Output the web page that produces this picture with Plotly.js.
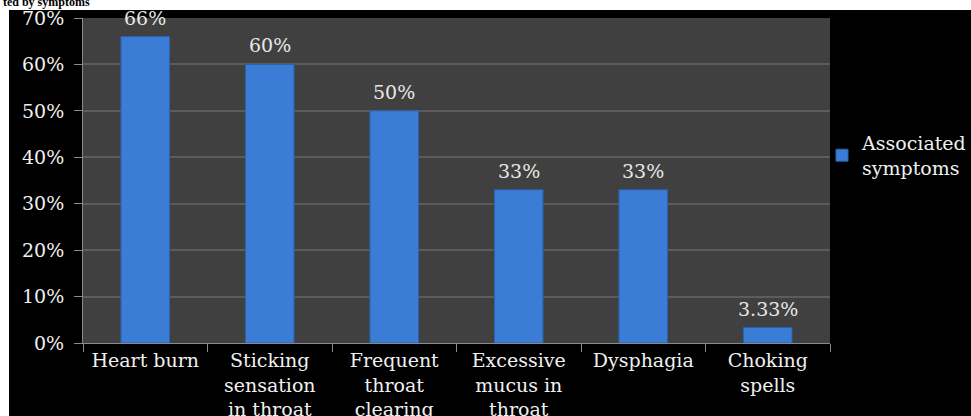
<!DOCTYPE html>
<html>
<head>
<meta charset="utf-8">
<script src="https://cdn.plot.ly/plotly-3.0.1.min.js"></script>
<style>html,body{margin:0;padding:0;background:#fff;}#chart{width:971px;height:416px;}</style>
</head>
<body>
<div id="chart"></div>
<script>
const categories = ["Heart burn", "Sticking<br>sensation<br>in throat", "Frequent<br>throat<br>clearing", "Excessive<br>mucus in<br>throat", "Dysphagia", "Choking<br>spells"];
const values = [0.66, 0.60, 0.50, 0.33, 0.33, 0.0333];
const valueLabels = ["66%", "60%", "50%", "33%", "33%", "3.33%"];
const seriesName = "Associated<br>symptoms";
const titleText = "ted by symptoms";

const W = 971, H = 416, L = 83, R = 141, T = 18, B = 73;
const pw = W - L - R, ph = H - T - B;
const px = v => (v - L) / pw;
const py = v => (H - B - v) / ph;
const font = "DejaVu Serif, Liberation Serif, serif";

const trace = {
  type: "bar",
  x: categories,
  y: values,
  name: seriesName,
  cliponaxis: false,
  marker: {color: "#3b7dd6", line: {color: "#2b62ad", width: 1}},
  width: 0.39,
  showlegend: true,
  hoverinfo: "skip"
};

const annotations = categories.map((c, i) => ({
  x: c, y: values[i], xref: "x", yref: "y",
  text: valueLabels[i], showarrow: false,
  yanchor: "bottom", yshift: 6,
  font: {family: font, size: 19, color: "#e8e8e8"}
}));

const layout = {
  width: W, height: H,
  margin: {l: L, r: R, t: T, b: B, pad: 0, autoexpand: false},
  paper_bgcolor: "#000000",
  plot_bgcolor: "#404040",
  font: {family: font, color: "#ffffff", size: 19},
  title: {text: "<b>" + titleText + "</b>", x: 0.003, xref: "container", xanchor: "left",
          y: 1 - 6 / H, yref: "container", yanchor: "bottom",
          font: {family: "Liberation Serif, serif", size: 12, color: "#000"}},
  xaxis: {
    type: "category",
    tickson: "boundaries",
    ticks: "outside", ticklen: 8, tickcolor: "#8a8a8a", tickwidth: 1,
    showline: true, linecolor: "#8a8a8a", linewidth: 1,
    tickfont: {family: font, size: 19, color: "#f0f0f0"},
    showgrid: false,
    fixedrange: true
  },
  yaxis: {
    range: [0, 0.70],
    dtick: 0.1,
    tickformat: ".0%",
    ticks: "outside", ticklen: 8, tickcolor: "#8a8a8a",
    showline: true, linecolor: "#8a8a8a", linewidth: 1,
    gridcolor: "#5c5c5c", gridwidth: 2,
    zeroline: false,
    tickfont: {family: font, size: 19, color: "#f0f0f0"},
    ticklabelstandoff: 6,
    fixedrange: true
  },
  legend: {
    xref: "container", yref: "container",
    x: 822 / W, y: 1 - 124 / H, xanchor: "left", yanchor: "top",
    bgcolor: "rgba(0,0,0,0)",
    font: {family: font, size: 19, color: "#f0f0f0"},
    itemwidth: 30, tracegroupgap: 0
  },
  annotations: annotations,
  shapes: [
    {type: "rect", xref: "paper", yref: "paper", x0: px(0), x1: px(W), y0: py(10), y1: py(0),
     fillcolor: "#ffffff", line: {width: 0}, layer: "above"},
    {type: "rect", xref: "paper", yref: "paper", x0: px(0), x1: px(9), y0: py(H), y1: py(0),
     fillcolor: "#ffffff", line: {width: 0}, layer: "above"}
  ]
};

Plotly.newPlot("chart", [trace], layout, {displayModeBar: false, staticPlot: true});
</script>
</body>
</html>
